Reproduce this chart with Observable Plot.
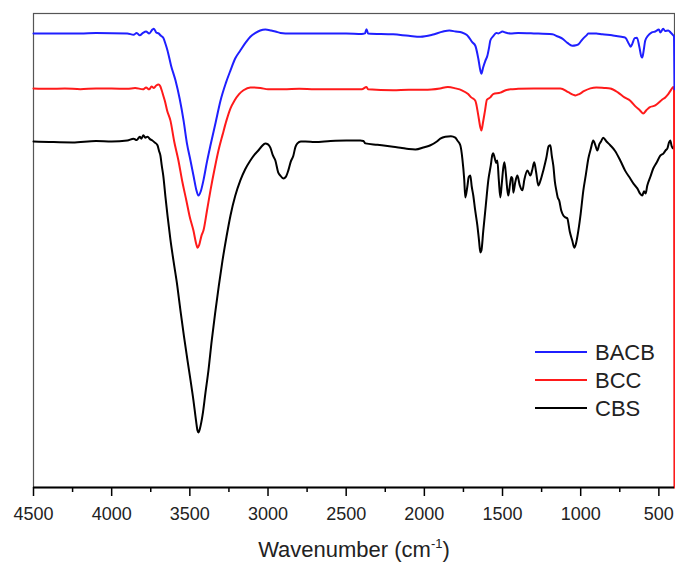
<!DOCTYPE html>
<html>
<head>
<meta charset="utf-8">
<script src="https://cdn.jsdelivr.net/npm/d3@7"></script>
<script src="https://cdn.jsdelivr.net/npm/@observablehq/plot@0.6"></script>
<style>
  html, body { margin: 0; padding: 0; background: #fff; }
  #chart svg { display: block; }
</style>
</head>
<body>
<div id="chart"></div>
<script>
// Series names and colours
const seriesNames = ["BACB", "BCC", "CBS"];
const seriesColors = ["#1f1fff", "#ff1a1a", "#000000"];

// Wavenumber (cm-1), transmittance (a.u., %)
const bacbData = [
  [4500,95.8],[4300,95.8],[4200,95.8],[4100,95.9],[3900,95.8],[3860,95.5],[3840,95.9],[3820,95.4],[3800,95.9],
  [3780,96.2],[3760,95.8],[3740,96.6],[3730,96.8],[3715,96.0],[3700,95.8],[3685,95.3],[3670,94.9],[3655,93.5],
  [3643,92.2],[3620,89.0],[3592,85.9],[3565,82.0],[3540,77.4],[3518,72.5],[3496,69.0],[3475,65.5],[3460,63.0],
  [3445,61.6],[3430,62.5],[3413,64.8],[3390,68.8],[3368,72.2],[3335,77.0],[3304,81.6],[3270,85.3],[3240,88.0],
  [3210,90.5],[3177,92.2],[3140,94.0],[3113,95.1],[3080,95.9],[3050,96.4],[3017,96.6],[2980,96.4],[2953,96.2],
  [2920,95.9],[2889,95.8],[2700,95.8],[2500,95.8],[2400,95.7],[2380,95.8],[2370,96.7],[2360,95.8],[2200,95.6],
  [2100,95.3],[2025,95.1],[1950,95.5],[1880,96.2],[1840,96.4],[1800,96.2],[1760,96.0],[1730,95.5],[1718,95.1],
  [1695,94.0],[1674,93.2],[1655,90.5],[1642,88.0],[1635,87.3],[1625,88.5],[1610,90.0],[1597,91.1],[1585,93.0],
  [1578,94.3],[1560,95.2],[1540,95.9],[1527,95.8],[1500,96.2],[1482,96.0],[1450,95.8],[1400,95.9],[1300,95.8],
  [1181,95.6],[1150,95.2],[1117,94.7],[1085,93.8],[1054,93.2],[1030,93.3],[1015,93.5],[990,94.5],[960,95.5],
  [951,95.8],[900,95.8],[862,95.6],[800,95.4],[740,95.1],[715,94.9],[690,93.5],[680,93.0],[670,93.6],[655,94.8],
  [640,94.9],[625,93.0],[612,90.9],[606,90.7],[598,92.0],[587,94.3],[570,95.3],[545,96.0],[523,96.2],[500,96.6],
  [490,96.0],[472,96.8],[460,96.3],[440,96.4],[425,96.0],[408,95.4],[403,95.2],[400,84.0]
];
const bccData = [
  [4500,84.2],[4400,84.1],[4300,84.2],[4200,84.0],[4100,84.2],[4000,84.2],[3900,84.1],[3850,84.3],[3800,84.0],
  [3780,84.4],[3760,84.0],[3745,84.6],[3730,84.3],[3715,84.8],[3700,85.0],[3690,84.7],[3680,83.8],[3670,82.7],
  [3660,81.6],[3645,79.5],[3624,77.4],[3600,73.0],[3573,69.0],[3548,64.5],[3522,60.5],[3500,57.0],[3477,54.2],
  [3460,51.5],[3451,50.6],[3440,51.2],[3425,53.2],[3413,54.2],[3390,58.5],[3368,62.7],[3340,67.5],[3317,71.1],
  [3290,74.5],[3266,77.4],[3240,80.0],[3215,81.6],[3185,83.0],[3157,83.8],[3113,84.4],[3049,84.3],[3000,84.0],
  [2900,84.0],[2800,84.1],[2700,84.0],[2600,84.0],[2500,84.0],[2400,84.0],[2370,84.5],[2360,84.0],[2200,83.8],
  [2100,83.9],[2000,83.9],[1900,84.2],[1850,84.5],[1800,84.2],[1760,83.8],[1720,83.0],[1700,82.3],[1674,81.6],
  [1655,78.5],[1642,76.0],[1635,75.3],[1625,77.0],[1612,79.5],[1600,81.8],[1578,82.3],[1560,83.0],[1514,83.3],
  [1480,83.8],[1450,84.0],[1400,84.1],[1300,84.2],[1200,84.2],[1130,84.2],[1080,83.4],[1050,82.9],[1034,82.7],
  [1010,83.0],[980,83.6],[938,84.2],[900,84.4],[850,84.3],[811,84.2],[760,83.3],[720,82.3],[683,81.6],[650,80.4],
  [619,79.5],[600,78.9],[580,79.6],[560,80.2],[523,80.6],[500,81.2],[480,81.8],[459,82.3],[440,83.0],[420,84.0],
  [408,84.5],[403,84.2],[400,0]
];
const cbsData = [
  [4500,73.0],[4400,72.9],[4250,72.8],[4100,73.1],[4000,73.0],[3900,73.2],[3860,73.6],[3840,73.3],[3820,74.0],
  [3810,73.6],[3797,74.3],[3785,73.8],[3770,74.0],[3755,73.5],[3740,73.2],[3725,72.8],[3707,72.2],[3697,71.0],
  [3688,70.0],[3680,68.0],[3670,65.8],[3655,61.0],[3643,57.4],[3625,52.5],[3605,47.9],[3580,42.5],[3560,37.3],
  [3538,32.0],[3515,26.8],[3495,22.5],[3477,18.4],[3460,14.0],[3451,12.0],[3445,11.6],[3435,12.5],[3419,15.2],
  [3400,20.0],[3381,24.7],[3360,31.0],[3336,37.3],[3315,42.5],[3291,47.9],[3265,53.0],[3240,57.4],[3210,61.5],
  [3177,64.8],[3145,67.2],[3113,69.0],[3085,70.3],[3062,71.1],[3040,72.0],[3017,72.6],[3000,72.4],[2985,71.7],
  [2968,70.0],[2953,69.0],[2935,66.5],[2921,65.8],[2902,65.2],[2885,65.6],[2870,66.9],[2855,68.7],[2838,70.0],
  [2825,71.8],[2812,72.6],[2790,73.0],[2761,73.0],[2700,72.9],[2600,73.1],[2500,73.2],[2410,73.2],[2390,73.1],
  [2377,72.6],[2300,72.3],[2200,71.9],[2153,71.7],[2100,71.4],[2057,71.3],[2000,71.8],[1961,72.2],[1920,73.0],
  [1898,73.6],[1866,74.0],[1830,74.1],[1802,73.8],[1789,73.2],[1770,72.2],[1757,69.4],[1745,65.0],[1738,61.2],
  [1725,63.5],[1716,65.5],[1706,65.8],[1697,63.5],[1687,61.6],[1675,58.5],[1661,55.3],[1650,52.0],[1642,49.6],
  [1635,50.0],[1623,54.2],[1607,59.5],[1591,64.8],[1575,68.0],[1565,70.2],[1559,70.5],[1550,69.5],[1540,68.5],
  [1533,69.0],[1524,65.0],[1514,61.2],[1505,64.0],[1495,67.5],[1488,68.6],[1478,66.0],[1470,63.0],[1463,61.6],
  [1452,64.0],[1444,65.5],[1437,65.2],[1431,62.2],[1418,64.5],[1405,65.8],[1390,63.8],[1373,62.7],[1360,65.0],
  [1341,66.9],[1322,65.8],[1310,67.0],[1297,68.6],[1285,66.5],[1271,63.7],[1255,65.0],[1239,66.9],[1220,69.5],
  [1205,72.0],[1194,72.2],[1185,70.0],[1175,67.9],[1165,64.5],[1156,62.7],[1147,61.2],[1137,60.5],[1125,58.5],
  [1111,57.4],[1098,57.0],[1086,56.8],[1070,54.0],[1054,52.1],[1041,50.6],[1030,51.5],[1015,54.2],[1000,57.8],
  [983,62.7],[967,66.0],[951,69.4],[935,71.5],[920,73.2],[906,72.2],[894,71.1],[880,72.5],[870,73.0],[856,73.8],
  [835,73.0],[811,72.2],[780,71.0],[747,69.0],[715,66.8],[683,65.2],[660,64.0],[638,63.1],[620,62.0],[606,61.6],
  [595,62.5],[585,62.0],[574,63.7],[555,65.5],[536,67.3],[515,68.5],[491,70.0],[470,70.5],[455,71.2],[446,71.5],
  [435,72.8],[427,73.2],[418,72.0],[408,71.5],[403,72.0],[400,72.0]
];

// Axis ticks
const majorTicks = [4500, 4000, 3500, 3000, 2500, 2000, 1500, 1000, 500];
const minorTicks = [4250, 3750, 3250, 2750, 2250, 1750, 1250, 750];

const toRows = (arr, name) => arr.map(([wn, t]) => ({wn, t, series: name}));
const drawOrder = [[cbsData, "CBS"], [bccData, "BCC"], [bacbData, "BACB"]];
const colorOf = Object.fromEntries(seriesNames.map((n, i) => [n, seriesColors[i]]));

const W = 675, H = 563;
const plot = Plot.plot({
  width: W,
  height: H,
  marginLeft: 33,
  marginRight: 1,
  marginTop: 13,
  marginBottom: 76,
  style: {fontFamily: "'Liberation Sans', Arial, sans-serif", background: "#fff"},
  x: {domain: [4500, 400]},
  y: {domain: [0, 100]},
  marks: [
    Plot.frame({stroke: "#555", strokeWidth: 1.2}),
    ...drawOrder.map(([arr, name]) =>
      Plot.line(toRows(arr, name), {x: "wn", y: "t", stroke: colorOf[name], strokeWidth: 2, curve: "monotone-x"})
    ),
    Plot.ruleY([0], {stroke: "#000", strokeWidth: 1.8}),
    Plot.axisX({ticks: majorTicks, tickSize: 9, tickPadding: 11, tickFormat: d => String(d),
      fontSize: 18, fill: "#222", stroke: "#000", strokeWidth: 1.5, label: null}),
    Plot.axisX({ticks: minorTicks, tickSize: 5, text: null, stroke: "#000", strokeWidth: 1.5, label: null}),
    Plot.axisY({ticks: [], label: null})
  ]
});

const svg = d3.select(plot);
// Axis title with superscript
const title = svg.append("text")
  .attr("x", 354).attr("y", 557)
  .attr("text-anchor", "middle")
  .attr("font-size", 22)
  .attr("fill", "#222")
  .attr("font-family", "'Liberation Sans', Arial, sans-serif");
title.append("tspan").text("Wavenumber (cm");
title.append("tspan").attr("font-size", 13).attr("dy", -9).text("-1");
title.append("tspan").attr("dy", 9).text(")");

// Legend
const legendRows = seriesNames.map((n, i) => ({name: n, color: seriesColors[i], y: 352 + i * 28}));
const lg = svg.append("g").attr("font-family", "'Liberation Sans', Arial, sans-serif").attr("text-anchor", "start");
legendRows.forEach(r => {
  lg.append("line").attr("x1", 535).attr("x2", 587).attr("y1", r.y).attr("y2", r.y)
    .attr("stroke", r.color).attr("stroke-width", 2);
  lg.append("text").attr("x", 595).attr("y", r.y).attr("dy", "0.36em").attr("text-anchor", "start")
    .attr("font-size", 22).attr("fill", "#222").text(r.name);
});

document.getElementById("chart").append(plot);
</script>
</body>
</html>
